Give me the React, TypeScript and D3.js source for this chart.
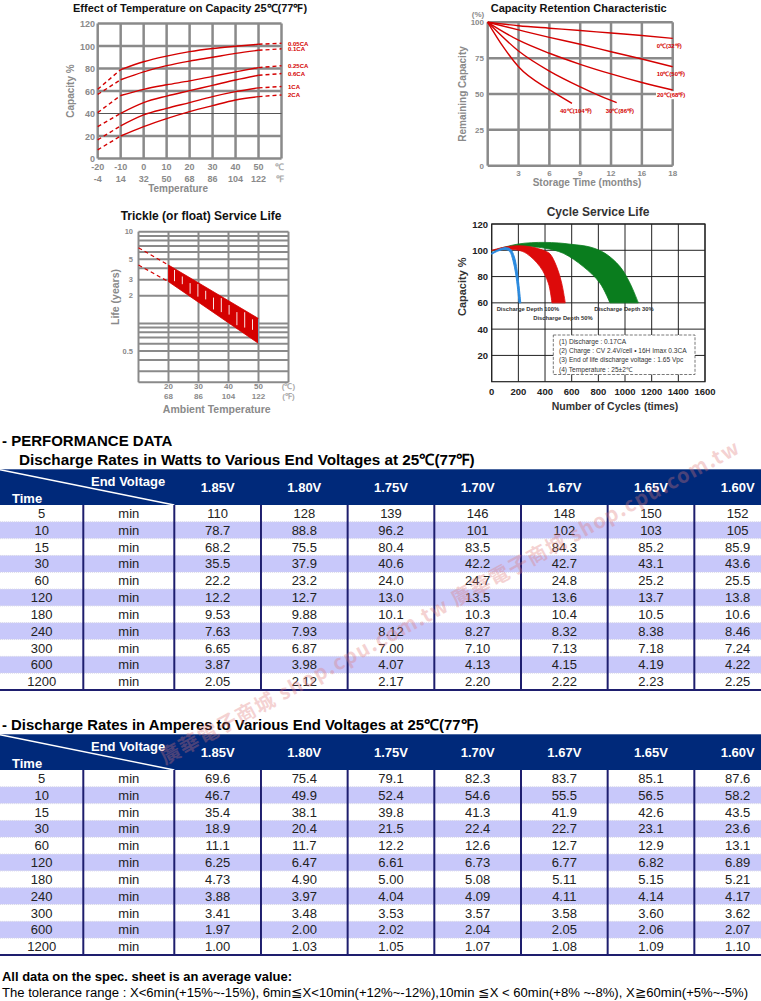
import React from 'react';
import * as d3 from 'd3';

// ---------- Chart 1: Effect of Temperature on Capacity ----------
const tempC = [-20, -10, 0, 10, 20, 30, 40, 50, 60];
const tempTickC = ['-20', '-10', '0', '10', '20', '30', '40', '50', '℃'];
const tempTickF = ['-4', '14', '32', '50', '68', '86', '104', '122', '℉'];
const capTicks = [0, 20, 40, 60, 80, 100, 120];
const rateLabels = ['0.05CA', '0.1CA', '0.25CA', '0.6CA', '1CA', '2CA'];
const cap005 = [61.5, 79, 86, 91, 95, 97.8, 99.8, 101.6, 102.4];
const cap01 = [57, 70, 77, 82.5, 86.6, 90, 93.4, 96.2, 97.5];
const cap025 = [40.8, 56, 61.5, 65.5, 69, 73, 77, 80.8, 82.5];
const cap06 = [28.4, 40.2, 49.7, 55.5, 60.3, 65, 69.8, 74, 75.5];
const cap1 = [16.6, 29, 38.7, 44.5, 49.7, 55, 59.4, 62.8, 64];
const cap2 = [7.7, 20, 28.4, 35.5, 41.7, 47, 52, 55, 56.5];
const capSeries = [cap005, cap01, cap025, cap06, cap1, cap2];

// ---------- Chart 2: Capacity Retention ----------
const monthTicks = [3, 6, 9, 12, 15, 18];
const monthTickLabels = ['3', '6', '9', '12', '16', '18'];
const retTicks = [0, 25, 50, 75, 100];
const ret0Months = [0, 3, 6, 9, 12, 15, 18];
const ret0 = [100, 97.6, 95.9, 94.3, 92.5, 90.8, 88.8];
const ret10Months = [0, 3, 6, 9, 12, 15, 18];
const ret10 = [100, 94.7, 89.5, 84.7, 79.5, 74.4, 69];
const ret20Months = [0, 3, 6, 9, 12, 15, 18];
const ret20 = [100, 87.5, 78.4, 70.7, 64, 58, 52.8];
const ret30Months = [0, 3, 6, 9, 12, 12.55];
const ret30 = [100, 80, 66, 55, 45.5, 44];
const ret40Months = [0, 1.5, 3, 6, 8.2];
const ret40 = [100, 83, 69, 53, 43.5];
const retLabels = ['0℃(32℉)', '10℃(50℉)', '20℃(68℉)', '30℃(86℉)', '40℃(104℉)'];

// ---------- Chart 3: Trickle service life ----------
const lifeTempTicks = [20, 30, 40, 50];
const lifeTickC = ['20', '30', '40', '50'];
const lifeTickF = ['68', '86', '104', '122'];
const lifeGridVals = [10, 9, 8, 7, 6, 5, 4, 3, 2, 1, 0.9, 0.8, 0.7, 0.6, 0.5, 0.4, 0.3];
const lifeTickVals = [10, 5, 3, 2, 0.5];
const lifeUpperDash = [[10, 6.69], [20, 4.33]];
const lifeLowerDash = [[10, 4.33], [20, 2.85]];
const lifeUpper = [[20, 4.33], [50, 1.13]];
const lifeLower = [[20, 2.85], [50, 0.605]];

// ---------- Chart 4: Cycle service life ----------
const cycleTicks = [0, 200, 400, 600, 800, 1000, 1200, 1400, 1600];
const cycleCapTicks = [20, 40, 60, 80, 100, 120];
const greenUpper = [[0, 99.5], [100, 102.5], [200, 104.8], [300, 105.8], [400, 106], [500, 105.6], [600, 104.5], [737, 102.5], [850, 97.7], [962, 87.6], [1037, 75], [1100, 60]];
const greenLower = [[0, 99.5], [100, 101.5], [200, 102.5], [300, 102.6], [400, 101.6], [537, 97.7], [687, 87.6], [812, 75], [887, 60]];
const redUpper = [[0, 100], [100, 102.5], [200, 103.5], [300, 102.5], [400, 99.5], [437, 97.3], [487, 87.6], [525, 75], [552, 60]];
const redLower = [[0, 99.8], [100, 100.8], [200, 100], [262, 97.5], [362, 87.6], [425, 75], [452, 60]];
const blueUpper = [[0, 98], [50, 100.6], [100, 102], [140, 101], [170, 95], [190, 85], [205, 73], [218, 60]];
const blueLower = [[0, 97], [50, 99.5], [100, 100.6], [135, 99], [160, 92], [180, 82], [195, 70], [205, 60]];
const cycleNotes = [
  '(1) Discharge : 0.17CA',
  '(2) Charge : CV 2.4V/cell • 16H Imax 0.3CA',
  '(3) End of life discharge voltage : 1.65 Vpc',
  '(4) Temperature : 25±2℃',
];

// ---------- Tables ----------
const times = ['5', '10', '15', '30', '60', '120', '180', '240', '300', '600', '1200'];
const voltages = ['1.85V', '1.80V', '1.75V', '1.70V', '1.67V', '1.65V', '1.60V'];
const watts = [
  ['110', '128', '139', '146', '148', '150', '152'],
  ['78.7', '88.8', '96.2', '101', '102', '103', '105'],
  ['68.2', '75.5', '80.4', '83.5', '84.3', '85.2', '85.9'],
  ['35.5', '37.9', '40.6', '42.2', '42.7', '43.1', '43.6'],
  ['22.2', '23.2', '24.0', '24.7', '24.8', '25.2', '25.5'],
  ['12.2', '12.7', '13.0', '13.5', '13.6', '13.7', '13.8'],
  ['9.53', '9.88', '10.1', '10.3', '10.4', '10.5', '10.6'],
  ['7.63', '7.93', '8.12', '8.27', '8.32', '8.38', '8.46'],
  ['6.65', '6.87', '7.00', '7.10', '7.13', '7.18', '7.24'],
  ['3.87', '3.98', '4.07', '4.13', '4.15', '4.19', '4.22'],
  ['2.05', '2.12', '2.17', '2.20', '2.22', '2.23', '2.25'],
];
const amps = [
  ['69.6', '75.4', '79.1', '82.3', '83.7', '85.1', '87.6'],
  ['46.7', '49.9', '52.4', '54.6', '55.5', '56.5', '58.2'],
  ['35.4', '38.1', '39.8', '41.3', '41.9', '42.6', '43.5'],
  ['18.9', '20.4', '21.5', '22.4', '22.7', '23.1', '23.6'],
  ['11.1', '11.7', '12.2', '12.6', '12.7', '12.9', '13.1'],
  ['6.25', '6.47', '6.61', '6.73', '6.77', '6.82', '6.89'],
  ['4.73', '4.90', '5.00', '5.08', '5.11', '5.15', '5.21'],
  ['3.88', '3.97', '4.04', '4.09', '4.11', '4.14', '4.17'],
  ['3.41', '3.48', '3.53', '3.57', '3.58', '3.60', '3.62'],
  ['1.97', '2.00', '2.02', '2.04', '2.05', '2.06', '2.07'],
  ['1.00', '1.03', '1.05', '1.07', '1.08', '1.09', '1.10'],
];

const FONT = 'Liberation Sans, Arial, Helvetica, sans-serif';
const GRAY = '#8a8a8a';
const RED = '#d40000';

function TempChart() {
  const x = d3.scaleLinear().domain([-20, 60]).range([97.7, 281.5]);
  const y = d3.scaleLinear().domain([0, 120]).range([158.5, 23.5]);
  const line = d3.line<number>().curve(d3.curveMonotoneX);
  const mk = (vals: number[], i0: number, i1: number) =>
    line(tempC.slice(i0, i1 + 1).map((t, i) => [x(t), y(vals[i0 + i])]) as any);
  const vLines = d3.range(-20, 61, 10);
  return (
    <g fontFamily={FONT}>
      <text x={73} y={11.5} fontSize={11} fontWeight="bold" fill="#111">Effect of Temperature on Capacity  25℃(77℉)</text>
      {vLines.map((t) => (
        <line key={'v' + t} x1={x(t)} x2={x(t)} y1={y(120)} y2={y(0)} stroke={GRAY} strokeWidth={2.5} />
      ))}
      {capTicks.map((c) => (
        <line key={'h' + c} x1={x(-20)} x2={x(60)} y1={y(c)} y2={y(c)} stroke={c === 40 ? '#555' : GRAY} strokeWidth={c === 40 ? 1.2 : 2.5} />
      ))}
      {capTicks.map((c) => (
        <text key={'yt' + c} x={95} y={y(c) + 3.5} fontSize={9} fontWeight="bold" fill={GRAY} textAnchor="end">{c}</text>
      ))}
      {tempC.map((t, i) => (
        <g key={'xt' + t}>
          <text x={x(t) - (i === 8 ? 2 : 0)} y={170} fontSize={9} fontWeight="bold" fill={i === 8 ? '#aaa' : GRAY} textAnchor="middle">{tempTickC[i]}</text>
          <text x={x(t) - (i === 8 ? 2 : 0)} y={181.5} fontSize={9} fontWeight="bold" fill={i === 8 ? '#aaa' : GRAY} textAnchor="middle">{tempTickF[i]}</text>
        </g>
      ))}
      <text x={x(15)} y={192} fontSize={10} fontWeight="bold" fill={GRAY} textAnchor="middle">Temperature</text>
      <text transform={`translate(74,${y(60)}) rotate(-90)`} fontSize={10} fontWeight="bold" fill={GRAY} textAnchor="middle">Capacity %</text>
      {capSeries.map((vals, si) => (
        <g key={'s' + si} fill="none" stroke={RED} strokeWidth={1.4}>
          <path d={mk(vals, 0, 1) as string} strokeDasharray="4,3" />
          <path d={mk(vals, 1, 7) as string} />
          <path d={mk(vals, 7, 8) as string} strokeDasharray="4,3" />
        </g>
      ))}
      {capSeries.map((vals, si) => (
        <text key={'l' + si} x={288} y={y(vals[8]) + 2.2} fontSize={6} fontWeight="bold" fill={RED}>{rateLabels[si]}</text>
      ))}
    </g>
  );
}

function RetentionChart() {
  const x = d3.scaleLinear().domain([0, 18]).range([487.7, 672.7]);
  const y = d3.scaleLinear().domain([0, 100]).range([165.7, 22.3]);
  const line = d3.line<number[]>().x((d) => x(d[0])).y((d) => y(d[1])).curve(d3.curveMonotoneX);
  const series = [
    [ret0Months, ret0], [ret10Months, ret10], [ret20Months, ret20], [ret30Months, ret30], [ret40Months, ret40],
  ];
  const labelPos = [
    [656.7, 47.5], [656.7, 76.3], [657, 97.2], [605.7, 112.5], [560, 112.5],
  ];
  return (
    <g fontFamily={FONT}>
      <text x={490.7} y={11.5} fontSize={11} fontWeight="bold" fill="#111">Capacity Retention Characteristic</text>
      {[0, ...monthTicks].map((m) => (
        <line key={'v' + m} x1={x(m)} x2={x(m)} y1={y(100)} y2={y(0)} stroke={GRAY} strokeWidth={2.5} />
      ))}
      {retTicks.map((r) => (
        <line key={'h' + r} x1={x(0)} x2={x(18)} y1={y(r)} y2={y(r)} stroke={GRAY} strokeWidth={2.5} />
      ))}
      {retTicks.map((r) => (
        <text key={'yt' + r} x={484} y={y(r) + 3} fontSize={8} fontWeight="bold" fill={GRAY} textAnchor="end">{r}</text>
      ))}
      <text x={478} y={16.5} fontSize={8} fontWeight="bold" fill={GRAY} textAnchor="middle">(%)</text>
      {monthTicks.map((m, i) => (
        <text key={'xt' + m} x={x(m)} y={175.5} fontSize={8} fontWeight="bold" fill={GRAY} textAnchor="middle">{monthTickLabels[i]}</text>
      ))}
      <text x={587} y={186} fontSize={10} fontWeight="bold" fill={GRAY} textAnchor="middle">Storage Time (months)</text>
      <text transform={`translate(466,${y(50)}) rotate(-90)`} fontSize={10} fontWeight="bold" fill={GRAY} textAnchor="middle">Remaining Capacity</text>
      {series.map(([ms, vs], i) => (
        <path key={'c' + i} d={line(ms.map((m, j) => [m, vs[j]])) as string} fill="none" stroke={RED} strokeWidth={1.4} />
      ))}
      {retLabels.map((t, i) => (
        <g key={'rl' + i}>
          {i === 2 && <rect x={labelPos[i][0] - 1} y={labelPos[i][1] - 6} width={25} height={8} fill="#fff" />}
          <text x={labelPos[i][0]} y={labelPos[i][1]} fontSize={6} fontWeight="bold" fill={RED}>{t}</text>
        </g>
      ))}
    </g>
  );
}

function TrickleChart() {
  const x = d3.scaleLinear().domain([10, 60]).range([138.5, 288.5]);
  const y = d3.scaleLog().domain([0.228, 10]).range([382.3, 231.7]);
  const line = d3.line<number[]>().x((d) => x(d[0])).y((d) => y(d[1]));
  const band = line(lifeUpper) + 'L' + (line([...lifeLower].reverse()) as string).slice(1) + 'Z';
  const hatchX = d3.range(22, 50, 2.6);
  const interp = (pts: number[][], t: number) => {
    const f = (t - pts[0][0]) / (pts[1][0] - pts[0][0]);
    return Math.exp(Math.log(pts[0][1]) + f * (Math.log(pts[1][1]) - Math.log(pts[0][1])));
  };
  return (
    <g fontFamily={FONT}>
      <text x={120.7} y={220} fontSize={12} fontWeight="bold" fill="#111">Trickle (or float) Service Life</text>
      {[10, ...lifeTempTicks, 60].map((t) => (
        <line key={'v' + t} x1={x(t)} x2={x(t)} y1={y(10)} y2={y(0.228)} stroke={GRAY} strokeWidth={2} />
      ))}
      {[...lifeGridVals, 0.228].map((v) => (
        <line key={'h' + v} x1={x(10)} x2={x(60)} y1={y(v)} y2={y(v)} stroke={GRAY} strokeWidth={2} />
      ))}
      {lifeTickVals.map((v) => (
        <text key={'yt' + v} x={133} y={y(v) + 2.5} fontSize={7.5} fontWeight="bold" fill={GRAY} textAnchor="end">{v}</text>
      ))}
      {lifeTempTicks.map((t, i) => (
        <g key={'xt' + t}>
          <text x={x(t)} y={389} fontSize={8} fontWeight="bold" fill={GRAY} textAnchor="middle">{lifeTickC[i]}</text>
          <text x={x(t)} y={399.3} fontSize={8} fontWeight="bold" fill={GRAY} textAnchor="middle">{lifeTickF[i]}</text>
        </g>
      ))}
      <text x={x(60)} y={389} fontSize={8} fontWeight="bold" fill="#aaa" textAnchor="middle">(℃)</text>
      <text x={x(60)} y={399.3} fontSize={8} fontWeight="bold" fill="#aaa" textAnchor="middle">(℉)</text>
      <text x={216.7} y={412.7} fontSize={10.5} fontWeight="bold" fill={GRAY} textAnchor="middle">Ambient Temperature</text>
      <text transform={`translate(119,297) rotate(-90)`} fontSize={10.5} fontWeight="bold" fill={GRAY} textAnchor="middle">Life (years)</text>
      <path d={line(lifeUpperDash) as string} stroke={RED} strokeWidth={1.2} strokeDasharray="4,3" fill="none" />
      <path d={line(lifeLowerDash) as string} stroke={RED} strokeWidth={1.2} strokeDasharray="4,3" fill="none" />
      <path d={band} fill={RED} stroke={RED} strokeWidth={0.8} />
      {hatchX.map((t, i) => {
        const yu = y(interp(lifeUpper, t));
        const yl = y(interp(lifeLower, t));
        const h = yl - yu;
        return (
          <line key={'hx' + i} x1={x(t)} x2={x(t)} y1={yu + h * (0.08 + (i % 3) * 0.1)} y2={yl - h * (0.15 + ((i + 1) % 3) * 0.12)} stroke="#fff" strokeWidth={0.9} />
        );
      })}
      <line x1={x(50)} x2={x(50)} y1={y(1.13)} y2={y(0.605)} stroke="#7a9ab0" strokeWidth={1} />
    </g>
  );
}

function CycleChart() {
  const x = d3.scaleLinear().domain([0, 1600]).range([491.7, 705]);
  const y = d3.scaleLinear().domain([0, 120]).range([381.7, 224]);
  const line = d3.line<number[]>().x((d) => x(d[0])).y((d) => y(d[1])).curve(d3.curveCatmullRom.alpha(0.5));
  const band = (u: number[][], l: number[][]) => line(u) + 'L' + (line([...l].reverse()) as string).slice(1) + 'Z';
  return (
    <g fontFamily={FONT}>
      <text x={598} y={216} fontSize={12} fontWeight="bold" fill="#333" textAnchor="middle">Cycle Service Life</text>
      <rect x={x(0)} y={y(120)} width={x(1600) - x(0)} height={y(0) - y(120)} fill="#fff" stroke="#222" strokeWidth={1.2} />
      {cycleTicks.map((c) => (
        <line key={'v' + c} x1={x(c)} x2={x(c)} y1={y(120)} y2={y(0)} stroke="#222" strokeWidth={1} />
      ))}
      {cycleCapTicks.map((c) => (
        <line key={'h' + c} x1={x(0)} x2={x(1600)} y1={y(c)} y2={y(c)} stroke="#222" strokeWidth={1} />
      ))}
      {cycleCapTicks.map((c) => (
        <text key={'yt' + c} x={488} y={y(c) + 3.5} fontSize={9.5} fontWeight="bold" fill="#222" textAnchor="end">{c}</text>
      ))}
      {cycleTicks.map((c) => (
        <text key={'xt' + c} x={x(c)} y={394.5} fontSize={9.5} fontWeight="bold" fill="#222" textAnchor="middle">{c}</text>
      ))}
      <text x={615} y={409.5} fontSize={10.5} fontWeight="bold" fill="#333" textAnchor="middle">Number of Cycles (times)</text>
      <text transform={`translate(466,286.7) rotate(-90)`} fontSize={11} fontWeight="bold" fill="#333" textAnchor="middle">Capacity %</text>
      <path d={band(greenUpper, greenLower)} fill="#0a7d1e" stroke="#0a7d1e" strokeWidth={0.8} />
      <path d={band(redUpper, redLower)} fill="#dd0a0a" stroke="#dd0a0a" strokeWidth={0.8} />
      <path d={band(blueUpper, blueLower)} fill="#2b8be0" stroke="#2b8be0" strokeWidth={1} />
      <text x={496.7} y={311.3} fontSize={5.8} fontWeight="bold" fill="#333">Discharge Depth 100%</text>
      <text x={533.3} y={320.3} fontSize={5.8} fontWeight="bold" fill="#333">Discharge Depth 50%</text>
      <text x={594.3} y={311.3} fontSize={5.8} fontWeight="bold" fill="#333">Discharge Depth 30%</text>
      <rect x={553.3} y={335} width={141.7} height={39.5} fill="#fff" stroke="#555" strokeWidth={0.8} strokeDasharray="3,1.5" />
      {cycleNotes.map((t, i) => (
        <text key={'n' + i} x={559} y={344 + i * 9.2} fontSize={6.6} fill="#333">{t}</text>
      ))}
    </g>
  );
}

function PerfTable({ top, data }: { top: number; data: string[][] }) {
  const headerH = 35.7;
  const bodyTop = top + headerH;
  const bodyBottom = bodyTop + 185;
  const cols = d3.scaleBand<string>().domain(voltages).range([174.3, 781]);
  const rows = d3.scaleBand<string>().domain(times).range([bodyTop, bodyBottom]);
  const navy = '#00297a';
  const sep = '#1e1e6e';
  return (
    <g fontFamily={FONT}>
      <rect x={0} y={top} width={761} height={headerH} fill={navy} />
      <line x1={0} y1={top + 0.5} x2={174.3} y2={bodyTop} stroke="#fff" strokeWidth={1.4} />
      <text x={91} y={top + 17} fontSize={13} fontWeight="bold" fill="#fff">End Voltage</text>
      <text x={12} y={top + 33.3} fontSize={13} fontWeight="bold" fill="#fff">Time</text>
      {voltages.map((v) => (
        <text key={v} x={(cols(v) as number) + cols.bandwidth() / 2} y={top + 22.5} fontSize={13} fontWeight="bold" fill="#fff" textAnchor="middle">{v}</text>
      ))}
      {times.map((t, i) => (
        <g key={t}>
          <rect x={0} y={rows(t) as number} width={761} height={rows.bandwidth()} fill={i % 2 === 1 ? '#c8c8fa' : '#fff'} />
          {i > 0 && <line x1={0} x2={761} y1={rows(t) as number} y2={rows(t) as number} stroke="#d8d8e8" strokeWidth={1} strokeDasharray="1,1" />}
        </g>
      ))}
      {[83.3, 174.3, ...voltages.slice(1).map((v) => cols(v) as number)].map((cx, i) => (
        <line key={'sep' + i} x1={cx} x2={cx} y1={bodyTop} y2={bodyBottom} stroke={sep} strokeWidth={2} />
      ))}
      <line x1={0} x2={761} y1={bodyBottom} y2={bodyBottom} stroke={sep} strokeWidth={2} />
      {times.map((t, i) => {
        const cy = (rows(t) as number) + rows.bandwidth() / 2 + 4.6;
        return (
          <g key={'r' + t} fontSize={13} fill="#222" textAnchor="middle">
            <text x={41.7} y={cy}>{t}</text>
            <text x={128.8} y={cy}>min</text>
            {data[i].map((v, j) => (
              <text key={j} x={(cols(voltages[j]) as number) + cols.bandwidth() / 2} y={cy}>{v}</text>
            ))}
          </g>
        );
      })}
    </g>
  );
}

export default function App() {
  return (
    <svg width={761} height={1001} style={{ position: 'absolute', left: 0, top: 0, background: '#fff' }} xmlns="http://www.w3.org/2000/svg">
      <rect x={0} y={0} width={761} height={1001} fill="#fff" />
      <TempChart />
      <RetentionChart />
      <TrickleChart />
      <CycleChart />
      <g fontFamily={FONT} fontWeight="bold" fill="#000">
        <text x={2} y={446} fontSize={15}>- PERFORMANCE DATA</text>
        <text x={19} y={465} fontSize={15.3}>Discharge Rates in Watts to Various End Voltages at 25℃(77℉)</text>
      </g>
      <PerfTable top={469.3} data={watts} />
      <text x={2} y={729.5} fontFamily={FONT} fontWeight="bold" fontSize={14.9} fill="#000">- Discharge Rates in Amperes to Various End Voltages at 25℃(77℉)</text>
      <PerfTable top={734.3} data={amps} />
      <g fontFamily="Liberation Sans Narrow, Arial Narrow, Liberation Sans, sans-serif" fill="#000">
        <text x={2} y={981} fontSize={12.5} fontWeight="bold" textLength={290} lengthAdjust="spacingAndGlyphs">All data on the spec. sheet is an average value:</text>
        <text x={2} y={997} fontSize={12.5} textLength={746} lengthAdjust="spacingAndGlyphs">The tolerance range : X&lt;6min(+15%~-15%), 6min≦X&lt;10min(+12%~-12%),10min  ≦X &lt; 60min(+8% ~-8%), X≧60min(+5%~-5%)</text>
      </g>
      <text transform="translate(165,765) rotate(-28.5)" fontFamily="Noto Sans CJK TC, Liberation Sans, sans-serif" fontWeight="bold" fontSize={20} fill="#e07878" opacity={0.33} textLength={655} lengthAdjust="spacing">廣華電子商城 shop.cpu.com.tw 廣華電子商城 shop.cpu.com.tw</text>
    </svg>
  );
}
